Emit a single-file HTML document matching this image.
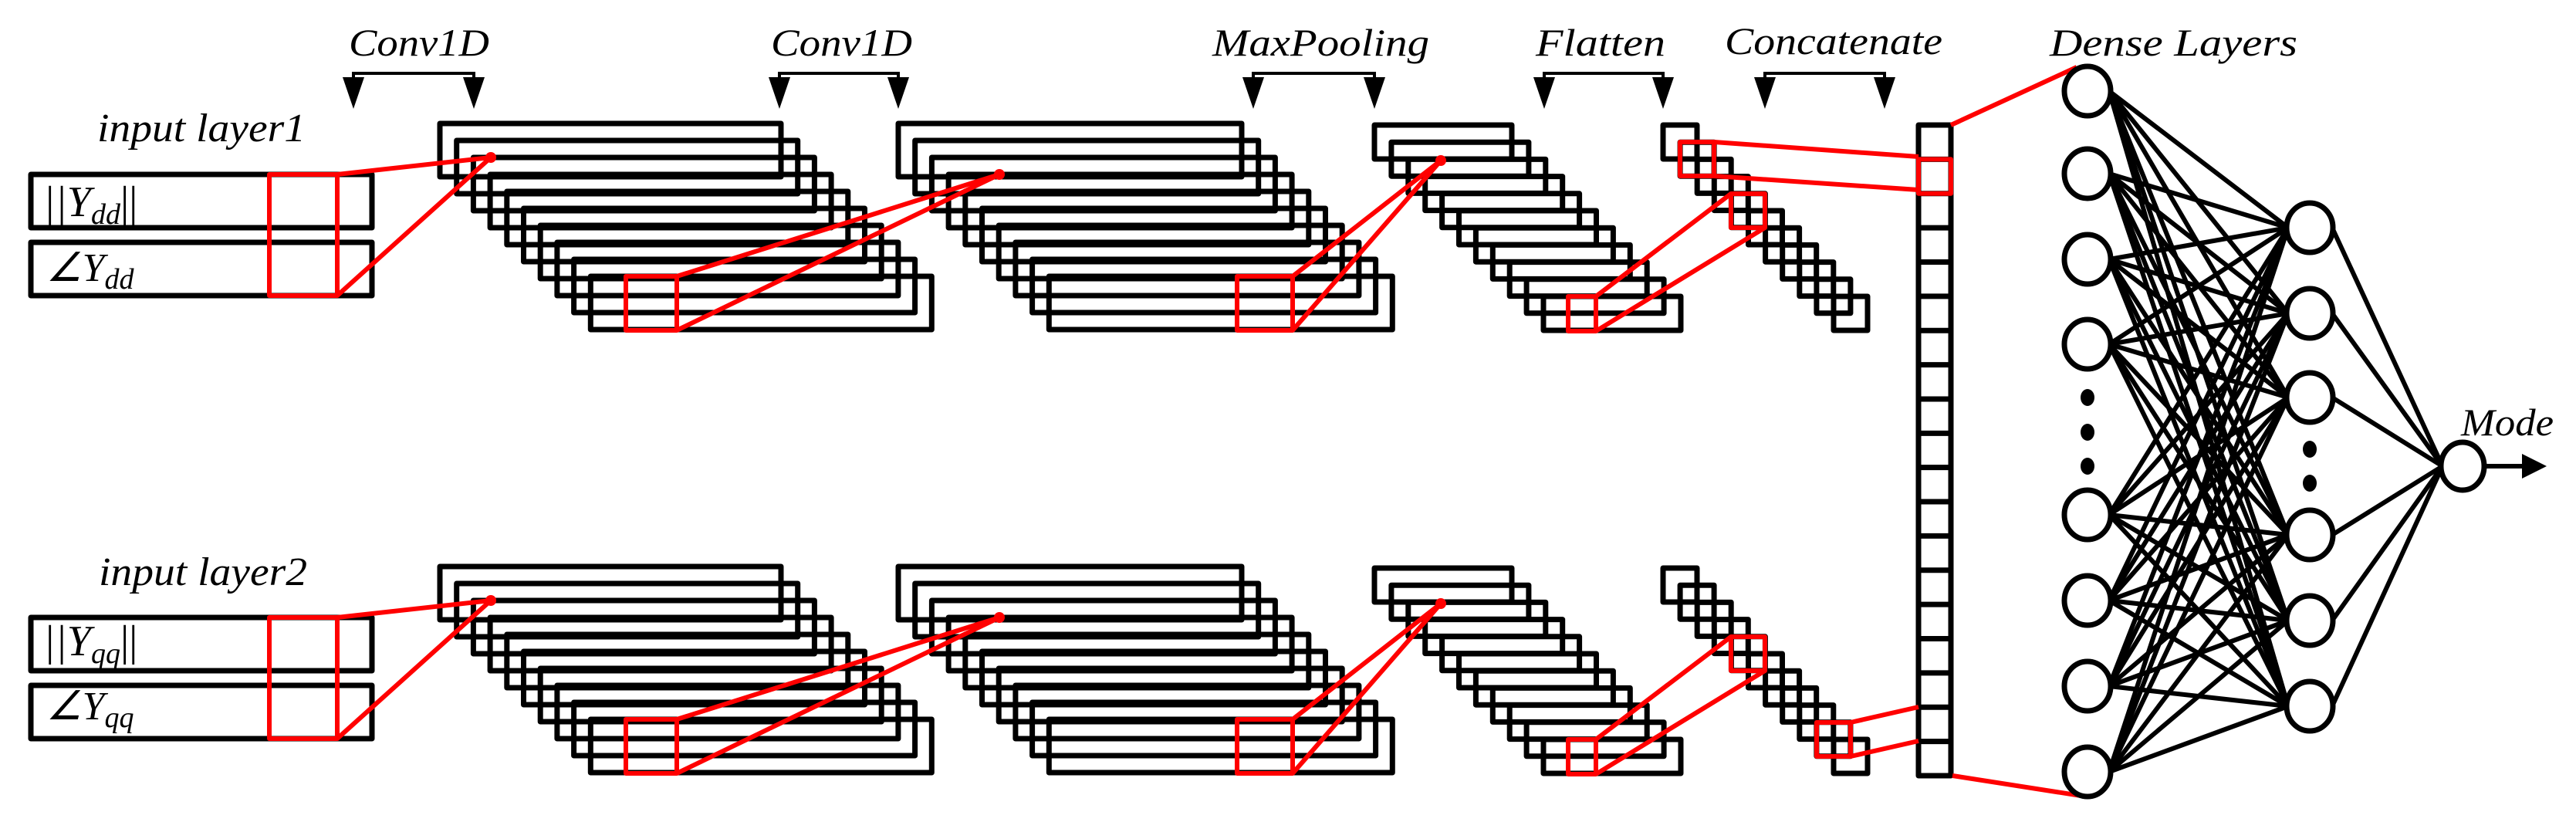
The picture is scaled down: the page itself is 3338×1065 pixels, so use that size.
<!DOCTYPE html>
<html><head><meta charset="utf-8"><style>html,body{margin:0;padding:0;background:#fff}svg{display:block}
text{font-family:"Liberation Serif",serif;font-style:italic;fill:#000}</style></head>
<body>
<svg id="s" width="3338" height="1065" viewBox="0 0 3338 1065" xmlns="http://www.w3.org/2000/svg">
<rect width="3338" height="1065" fill="#fff"/>
<g id="g" fill="none" stroke="#000" stroke-width="7" stroke-linejoin="round"></g>
<g id="r" fill="none" stroke="#f00" stroke-width="6" stroke-linejoin="round"></g>
<text x="452" y="72" font-size="50" textLength="182" lengthAdjust="spacingAndGlyphs">Conv1D</text>
<text x="999" y="72" font-size="50" textLength="183" lengthAdjust="spacingAndGlyphs">Conv1D</text>
<text x="1571" y="72" font-size="50" textLength="281" lengthAdjust="spacingAndGlyphs">MaxPooling</text>
<text x="1990" y="72" font-size="50" textLength="168" lengthAdjust="spacingAndGlyphs">Flatten</text>
<text x="2235" y="70" font-size="50" textLength="282" lengthAdjust="spacingAndGlyphs">Concatenate</text>
<text x="2656" y="72" font-size="50" textLength="321" lengthAdjust="spacingAndGlyphs">Dense Layers</text>
<text x="3189" y="564" font-size="50" textLength="120" lengthAdjust="spacingAndGlyphs">Mode</text>
<text x="126" y="183" font-size="52" textLength="270" lengthAdjust="spacingAndGlyphs">input layer1</text>
<text x="128" y="758" font-size="52" textLength="270" lengthAdjust="spacingAndGlyphs">input layer2</text>
<text x="56" y="280" font-size="56" font-style="normal">||<tspan font-style="italic">Y</tspan><tspan font-size="38" dy="10">dd</tspan><tspan dy="-10" font-style="normal">||</tspan></text>
<text x="60" y="364" font-size="52" font-style="normal">∠<tspan font-style="italic">Y</tspan><tspan font-size="38" dy="10">dd</tspan></text>
<text x="56" y="849" font-size="56" font-style="normal">||<tspan font-style="italic">Y</tspan><tspan font-size="38" dy="10">qq</tspan><tspan dy="-10" font-style="normal">||</tspan></text>
<text x="60" y="932" font-size="52" font-style="normal">∠<tspan font-style="italic">Y</tspan><tspan font-size="38" dy="10">qq</tspan></text>
</svg>
<script>
var g=document.getElementById('g'),r=document.getElementById('r'),s=document.getElementById('s'),NS='http://www.w3.org/2000/svg';
function el(p,t,a){var e=document.createElementNS(NS,t);for(var k in a)e.setAttribute(k,a[k]);p.appendChild(e);return e;}
function R(p,x,y,w,h){el(p,'rect',{x:x,y:y,width:w,height:h});}
function L(p,x1,y1,x2,y2){el(p,'line',{x1:x1,y1:y1,x2:x2,y2:y2});}
function dot(x,y){el(s,'circle',{cx:x,cy:y,r:7,fill:'#f00'});}
[[458,614],[1010,1164],[1624,1781],[2001,2155],[2287,2442]].forEach(function(b){
 el(s,'polyline',{points:b[0]+',102 '+b[0]+',95 '+b[1]+',95 '+b[1]+',102',fill:'none',stroke:'#000','stroke-width':4});
 b.forEach(function(x){el(s,'polygon',{points:(x-14)+',100 '+(x+14)+',100 '+x+',141',fill:'#000'});});
});
[0,574].forEach(function(o){
 R(g,40,226+o,442,69);R(g,40,314+o,442,69);
 for(var i=0;i<10;i++)R(g,570+21.7*i,160+22*i+o,442,69);
 for(var i=0;i<10;i++)R(g,1164+21.7*i,160+22*i+o,445,69);
 for(var i=0;i<11;i++)R(g,1781+21.9*i,162+22.2*i+o,178,44);
 for(var i=0;i<11;i++)R(g,2155+22.1*i,162+22.2*i+o,44,44);
 R(r,349,226+o,88,157);
 L(r,437,226+o,636,204+o);L(r,437,383+o,636,204+o);dot(636,204+o);
 R(r,811,358+o,66,70);
 L(r,877,358+o,1295,226+o);L(r,877,428+o,1295,226+o);dot(1295,226+o);
 R(r,1603,358+o,72,70);
 L(r,1675,358+o,1867,208+o);L(r,1675,428+o,1867,208+o);dot(1867,208+o);
 R(r,2032,384+o,36,45);
 R(r,2243,251+o,44,44);
 L(r,2068,384+o,2243,251+o);L(r,2068,429+o,2287,295+o);
});
R(r,2177,184,44,44);L(r,2221,184,2486,203);L(r,2221,228,2486,246);
R(r,2354,936,44,44);L(r,2398,936,2486,916);L(r,2398,980,2486,960);
var ch=(1005-162)/19;
R(g,2486,162,42,843);
for(var i=1;i<19;i++)L(g,2486,162+ch*i,2528,162+ch*i);
R(r,2486,162+ch,42,ch);
L(r,2528,162,2691,87);L(r,2530,1005,2703,1032);
var l1=[118,225,336,446,667,778,889,1000],l2=[295,406,515,693,804,915];
var e=el(s,'g',{stroke:'#000','stroke-width':6});
l1.forEach(function(a){l2.forEach(function(b){L(e,2733,a,2965,b);});});
l2.forEach(function(b){L(e,3022,b,3165,604);});
l1.forEach(function(a){el(s,'ellipse',{cx:2705,cy:a,rx:30,ry:32,fill:'#fff',stroke:'#000','stroke-width':7});});
l2.forEach(function(b){el(s,'ellipse',{cx:2993,cy:b,rx:30,ry:32,fill:'#fff',stroke:'#000','stroke-width':7});});
el(s,'ellipse',{cx:3191,cy:604,rx:28,ry:31,fill:'#fff',stroke:'#000','stroke-width':7});
[515,560,604].forEach(function(y){el(s,'ellipse',{cx:2705,cy:y,rx:9,ry:11,fill:'#000'});});
[582,626].forEach(function(y){el(s,'ellipse',{cx:2993,cy:y,rx:9,ry:11,fill:'#000'});});
L(e,3219,604,3275,604);
el(s,'polygon',{points:'3268,588 3300,604 3268,620',fill:'#000'});
</script>
</body></html>
